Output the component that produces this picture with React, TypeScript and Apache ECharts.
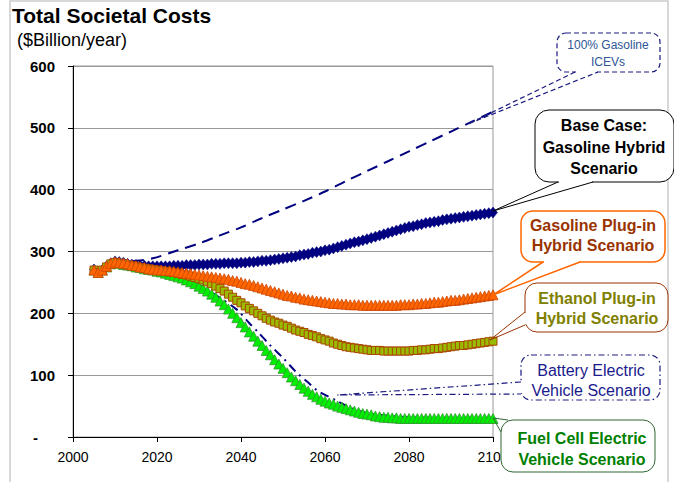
import React, { useEffect, useRef } from "react";
import * as echarts from "echarts";

const FONT = "'Liberation Sans', Arial, sans-serif";

// Annual years 2005..2100
const years: number[] = [];
for (let y = 2005; y <= 2100; y++) years.push(y);

const baseCase = [
  271, 267, 270, 276, 281, 284, 283, 282, 280, 279,
  278, 277, 277, 276, 276, 276, 276, 276, 276, 277,
  277, 277, 278, 278, 278, 279, 279, 279, 280, 280,
  280, 281, 281, 281, 281, 282, 282, 283, 283, 284,
  285, 285, 286, 287, 288, 289, 290, 291, 292, 294,
  295, 296, 298, 299, 300, 302, 303, 305, 307, 309,
  311, 313, 315, 316, 318, 320, 322, 324, 326, 328,
  330, 332, 334, 336, 338, 340, 341, 343, 344, 346,
  347, 348, 349, 351, 352, 353, 354, 355, 356, 357,
  358, 359, 360, 361, 362, 363,
];

const gasolinePHEV = [
  270, 266, 270, 276, 281, 283, 282, 281, 280, 278,
  277, 275, 274, 272, 271, 270, 270, 269, 269, 268,
  267, 266, 265, 264, 263, 262, 261, 260, 259, 258,
  257, 256, 255, 253, 252, 250, 248, 247, 245, 243,
  241, 239, 237, 235, 233, 231, 229, 228, 226, 225,
  223, 222, 221, 220, 219, 218, 217, 216, 216, 215,
  215, 214, 214, 214, 213, 213, 213, 213, 213, 213,
  213, 213, 213, 214, 214, 214, 215, 215, 216, 216,
  217, 218, 218, 219, 220, 221, 221, 222, 223, 224,
  225, 226, 227, 228, 229, 230,
];

const ethanolPHEV = [
  270, 266, 270, 275, 280, 282, 281, 280, 278, 277,
  276, 274, 273, 272, 271, 270, 269, 268, 267, 266,
  265, 263, 262, 260, 258, 256, 254, 251, 248, 244,
  240, 236, 231, 226, 221, 217, 212, 208, 204, 200,
  196, 192, 189, 186, 184, 181, 179, 176, 173, 171,
  169, 166, 164, 162, 159, 157, 155, 152, 150, 148,
  146, 145, 144, 143, 142, 141, 140, 140, 140, 139,
  139, 139, 139, 139, 139, 139, 140, 140, 141, 141,
  142, 143, 143, 144, 145, 146, 147, 148, 148, 149,
  150, 151, 152, 153, 154, 155,
];

const fuelCell = [
  270, 266, 270, 275, 280, 282, 281, 279, 278, 277,
  275, 274, 272, 271, 270, 268, 267, 265, 263, 261,
  259, 257, 254, 251, 248, 244, 240, 236, 231, 226,
  220, 214, 207, 200, 193, 185, 178, 170, 163, 155,
  148, 140, 133, 125, 118, 111, 104, 97, 91, 85,
  79, 74, 69, 65, 61, 58, 55, 53, 50, 48,
  46, 44, 42, 40, 38, 37, 36, 34, 33, 32,
  32, 31, 31, 30, 30, 30, 30, 30, 30, 30,
  30, 30, 30, 30, 30, 30, 30, 30, 30, 30,
  30, 30, 30, 30, 30, 30,
];

// Lines without markers: [year, value]
const iceYears = [2010, 2015, 2019, 2025, 2030, 2035, 2040, 2045, 2050, 2055, 2060, 2065, 2070, 2075, 2080, 2085, 2090, 2095, 2100];
const iceValues = [283, 285, 289, 302, 313, 326, 339, 354, 368, 382, 397, 414, 430, 446, 462, 478, 494, 510, 526];

const bevYears = [2005, 2010, 2015, 2020, 2025, 2030, 2035, 2039, 2042, 2044, 2047, 2050, 2053, 2056, 2058, 2060, 2063, 2066, 2070, 2074, 2080, 2090, 2100];
const bevValues = [270, 282, 276, 269, 260, 246, 225, 206, 184, 170, 148, 128, 106, 88, 76, 68, 58, 47, 39, 35, 32, 31, 31];

const yTicks = [0, 100, 200, 300, 400, 500, 600];
const xTicks = [2000, 2020, 2040, 2060, 2080, 2100];

function pairs(xs: number[], ys: number[]) {
  return xs.map((x, i) => [x, ys[i]]);
}

function callout(opts: {
  x: number; y: number; w: number; h: number; r: number;
  stroke: string; lineWidth?: number; dash?: number[];
  text: string; textColor: string; bold: boolean; fontSize: number; lineHeight: number;
  cx: number; cy: number;
  tail: number[][][]; patch?: number[][];
}) {
  const els: any[] = [];
  els.push({
    type: "rect",
    z: 100,
    shape: { x: opts.x, y: opts.y, width: opts.w, height: opts.h, r: opts.r },
    style: { fill: "#fff", stroke: opts.stroke, lineWidth: opts.lineWidth ?? 1, lineDash: opts.dash },
  });
  if (opts.patch) {
    els.push({
      type: "line",
      z: 101,
      shape: { x1: opts.patch[0][0], y1: opts.patch[0][1], x2: opts.patch[1][0], y2: opts.patch[1][1] },
      style: { stroke: "#fff", lineWidth: 3 },
    });
  }
  opts.tail.forEach((seg) => {
    els.push({
      type: "polyline",
      z: 102,
      shape: { points: seg },
      style: { stroke: opts.stroke, lineWidth: opts.lineWidth ?? 1, lineDash: opts.dash, fill: null },
    });
  });
  els.push({
    type: "text",
    z: 103,
    x: opts.cx,
    y: opts.cy,
    style: {
      text: opts.text,
      fill: opts.textColor,
      font: `${opts.bold ? "bold " : ""}${opts.fontSize}px ${FONT}`,
      align: "center",
      verticalAlign: "middle",
      lineHeight: opts.lineHeight,
    },
  });
  return els;
}

export default function App() {
  const ref = useRef<HTMLDivElement>(null);
  useEffect(() => {
    if (!ref.current) return;
    const chart = echarts.init(ref.current, undefined, { renderer: "svg" });

    const graphics: any[] = [
      {
        type: "rect",
        z: 0,
        shape: { x: 10, y: 1, width: 658, height: 500 },
        style: { fill: null, stroke: "#cccccc", lineWidth: 1.5 },
      },
      {
        type: "text", z: 103, x: 12, y: 15.5,
        style: { text: "Total Societal Costs", fill: "#000", font: `bold 21px ${FONT}`, verticalAlign: "middle" },
      },
      {
        type: "text", z: 103, x: 17, y: 40,
        style: { text: "($Billion/year)", fill: "#000", font: `18px ${FONT}`, verticalAlign: "middle" },
      },
      ...callout({
        x: 557, y: 33, w: 103, h: 39, r: 9, stroke: "#1a1a80", lineWidth: 1.2, dash: [5, 3],
        text: "100% Gasoline\nICEVs", textColor: "#2f5596", bold: false, fontSize: 12, lineHeight: 17,
        cx: 608, cy: 53,
        tail: [[[575, 72], [468, 124], [598, 72]]], patch: [[576, 72], [597, 72]],
      }),
      ...callout({
        x: 535, y: 110, w: 139, h: 72, r: 14, stroke: "#000", lineWidth: 1,
        text: "Base Case:\nGasoline Hybrid\nScenario", textColor: "#000", bold: true, fontSize: 16, lineHeight: 21.5,
        cx: 604, cy: 147,
        tail: [[[558, 182], [493, 211], [593, 182]]], patch: [[559, 182], [592, 182]],
      }),
      ...callout({
        x: 521, y: 211, w: 144, h: 51, r: 12, stroke: "#ff6600", lineWidth: 1.5,
        text: "Gasoline Plug-in\nHybrid Scenario", textColor: "#993300", bold: true, fontSize: 16, lineHeight: 20,
        cx: 593, cy: 235,
        tail: [[[543, 262], [493, 295], [580, 262]]], patch: [[544, 262], [579, 262]],
      }),
      ...callout({
        x: 525, y: 283, w: 143, h: 49, r: 12, stroke: "#993300", lineWidth: 1,
        text: "Ethanol Plug-in\nHybrid Scenario", textColor: "#808000", bold: true, fontSize: 16, lineHeight: 20,
        cx: 597, cy: 308,
        tail: [[[525, 312], [490, 340], [525, 325]]], patch: [[525, 313], [525, 324]],
      }),
      ...callout({
        x: 521, y: 355, w: 139, h: 45, r: 10, stroke: "#1a1a80", lineWidth: 1.2, dash: [6, 3, 1.5, 3],
        text: "Battery Electric\nVehicle Scenario", textColor: "#1a1a8c", bold: false, fontSize: 16, lineHeight: 20,
        cx: 591, cy: 380,
        tail: [[[521, 382], [337, 395], [521, 394]]], patch: [[521, 383], [521, 393]],
      }),
      ...callout({
        x: 501, y: 420, w: 154, h: 52, r: 12, stroke: "#336633", lineWidth: 1,
        text: "Fuel Cell Electric\nVehicle Scenario", textColor: "#008000", bold: true, fontSize: 16, lineHeight: 21,
        cx: 582, cy: 448.5,
        tail: [[[508, 420], [493, 418], [501, 432]]],
      }),
    ];

    chart.setOption({
      animation: false,
      textStyle: { fontFamily: FONT },
      grid: {
        left: 73, top: 66, width: 420, height: 371,
        show: true, borderColor: "#999", borderWidth: 1, backgroundColor: "transparent",
      },
      xAxis: {
        type: "value",
        min: xTicks[0],
        max: xTicks[xTicks.length - 1],
        interval: 20,
        axisLine: { show: true, lineStyle: { color: "#000", width: 1 } },
        axisTick: { show: true, length: 5, lineStyle: { color: "#000" } },
        axisLabel: {
          color: "#000", fontSize: 14, margin: 13, fontFamily: FONT,
          formatter: (v: number) => String(v),
        },
        splitLine: { show: false },
      },
      yAxis: {
        type: "value",
        min: yTicks[0],
        max: yTicks[yTicks.length - 1],
        interval: 100,
        axisLine: { show: true, lineStyle: { color: "#000", width: 1 } },
        axisTick: { show: true, length: 5, lineStyle: { color: "#000" } },
        axisLabel: {
          color: "#000", fontSize: 15, fontWeight: "bold", margin: 18, fontFamily: FONT,
          formatter: (v: number) => (v === 0 ? "{d|-}" : String(v)),
          rich: { d: { fontSize: 15, fontWeight: "bold", padding: [0, 17, 0, 0], fontFamily: FONT } },
        },
        splitLine: { show: true, lineStyle: { color: "#999", width: 1 } },
      },
      series: [
        {
          name: "100% Gasoline ICEVs", type: "line", data: pairs(iceYears, iceValues),
          smooth: 0.3, symbol: "none",
          lineStyle: { color: "#000080", width: 2, type: [11, 7] },
        },
        {
          name: "Battery Electric Vehicle Scenario", type: "line", data: pairs(bevYears, bevValues),
          smooth: 0.3, symbol: "none",
          lineStyle: { color: "#000080", width: 2, type: [9, 5, 2, 5] },
        },
        {
          name: "Base Case", type: "line", data: pairs(years, baseCase),
          symbol: "diamond", symbolSize: [9, 11], showAllSymbol: true,
          itemStyle: { color: "#000080", borderColor: "#000080", borderWidth: 0.5 },
          lineStyle: { color: "#000080", width: 1.5 },
        },
        {
          name: "Fuel Cell Electric Vehicle Scenario", type: "line", data: pairs(years, fuelCell),
          symbol: "triangle", symbolSize: 10, showAllSymbol: true,
          itemStyle: { color: "#00ee00", borderColor: "#339933", borderWidth: 0.8 },
          lineStyle: { color: "#00cc00", width: 1.5 },
        },
        {
          name: "Ethanol Plug-in Hybrid Scenario", type: "line", data: pairs(years, ethanolPHEV),
          symbol: "rect", symbolSize: 8, showAllSymbol: true,
          itemStyle: { color: "#99bb00", borderColor: "#aa4400", borderWidth: 1 },
          lineStyle: { color: "#aa4400", width: 1.5 },
        },
        {
          name: "Gasoline Plug-in Hybrid Scenario", type: "line", data: pairs(years, gasolinePHEV),
          symbol: "triangle", symbolSize: 10, showAllSymbol: true,
          itemStyle: { color: "#ff6600", borderColor: "#cc4400", borderWidth: 0.8 },
          lineStyle: { color: "#ff6600", width: 1.5 },
        },
      ],
      graphic: graphics,
    });
    return () => chart.dispose();
  }, []);
  return (
    <div
      ref={ref}
      style={{ position: "absolute", left: 0, top: 0, width: 674, height: 482, background: "#fff" }}
    />
  );
}
